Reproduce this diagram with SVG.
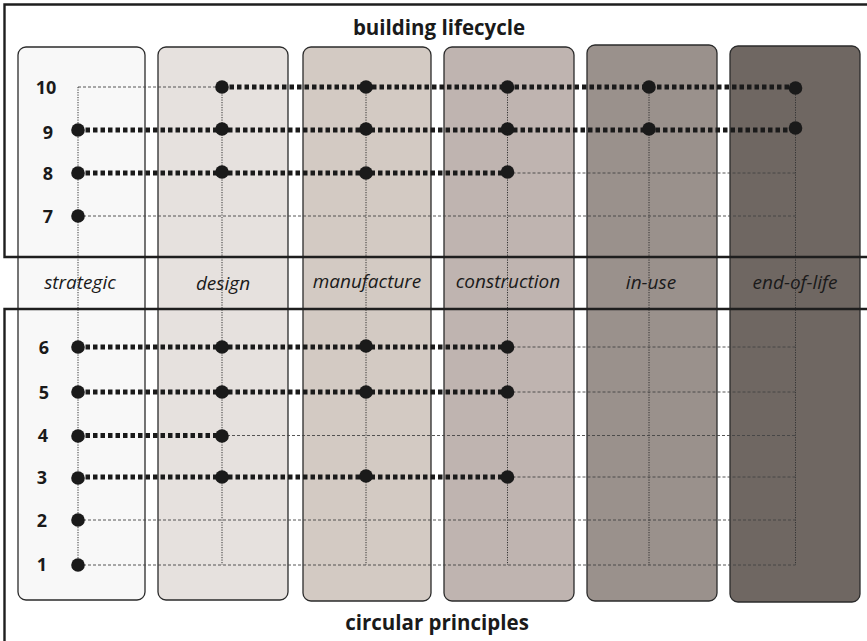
<svg xmlns="http://www.w3.org/2000/svg" width="867" height="641" viewBox="0 0 867 641">
<style>
.col{stroke:#2b2b2b;stroke-width:1.3}
.frame{fill:none;stroke:#1e1e1e;stroke-width:2.4}
.phase{font-family:"Open Sans","Liberation Sans",sans-serif;font-style:italic;font-size:19px;fill:#1a1a1a;text-anchor:middle}
.num{font-family:"Open Sans","Liberation Sans",sans-serif;font-weight:bold;font-size:18px;fill:#1a1a1a;text-anchor:middle}
.title{font-family:"Open Sans","Liberation Sans",sans-serif;font-weight:bold;font-size:20.5px;fill:#1a1a1a;text-anchor:middle}
.vt{stroke:#333;stroke-width:1;stroke-dasharray:1.2 1.3;fill:none}
.ht{stroke:#444;stroke-width:0.9;stroke-dasharray:3 2;fill:none}
.thick{stroke:#1a1a1a;stroke-width:5;stroke-dasharray:4.5 3;fill:none}
.dot{fill:#1a1a1a}
</style>
<rect width="867" height="641" fill="#ffffff"/>
<g id="col-strategic"><rect class="col" x="18" y="47" width="127" height="553" rx="8" fill="#f8f8f8"/><text class="phase" x="80" y="289">strategic</text></g>
<g id="col-design"><rect class="col" x="158" y="47" width="130" height="553" rx="8" fill="#e6e1de"/><text class="phase" x="223" y="290">design</text></g>
<g id="col-manufacture"><rect class="col" x="303" y="47" width="128" height="554" rx="8" fill="#d3cac3"/><text class="phase" x="367" y="288">manufacture</text></g>
<g id="col-construction"><rect class="col" x="444" y="47" width="130" height="554" rx="8" fill="#bfb4b0"/><text class="phase" x="508" y="288">construction</text></g>
<g id="col-in-use"><rect class="col" x="587" y="45" width="130" height="556" rx="8" fill="#9a918c"/><text class="phase" x="651" y="289">in-use</text></g>
<g id="col-end-of-life"><rect class="col" x="730" y="46" width="130" height="556" rx="8" fill="#6f6762"/><text class="phase" x="795" y="289">end-of-life</text></g>
<g id="connectors">
<path class="vt" d="M78 87V565M222 87V565M366 87V565M507.5 87V565M649 87V565M795.5 87V565"/>
<path class="ht" d="M78 87H222M78 216H795.5M507.5 173H795.5M222 435.5H795.5M507.5 347H795.5M507.5 392H795.5M507.5 477H795.5M78 520H795.5M78 565H795.5"/>
<path class="thick" d="M222 87H795.5M78 130H795.5M78 173H507.5M78 347H507.5M78 392H507.5M78 435.5H222M78 477H507.5"/>
<g class="dot">
<circle cx="222" cy="87" r="6.8"/><circle cx="366" cy="87" r="6.8"/><circle cx="507.5" cy="87" r="6.8"/><circle cx="649" cy="87" r="6.8"/><circle cx="795.5" cy="88" r="6.8"/>
<circle cx="78" cy="130" r="6.8"/><circle cx="222" cy="129" r="6.8"/><circle cx="366" cy="129" r="6.8"/><circle cx="507.5" cy="129" r="6.8"/><circle cx="649" cy="129" r="6.8"/><circle cx="795.5" cy="128" r="6.8"/>
<circle cx="78" cy="173" r="6.8"/><circle cx="222" cy="172" r="6.8"/><circle cx="366" cy="173" r="6.8"/><circle cx="507.5" cy="172" r="6.8"/>
<circle cx="78" cy="216" r="6.8"/>
<circle cx="78" cy="347" r="6.8"/><circle cx="222" cy="347" r="6.8"/><circle cx="366" cy="346" r="6.8"/><circle cx="507.5" cy="347" r="6.8"/>
<circle cx="78" cy="392" r="6.8"/><circle cx="222" cy="392" r="6.8"/><circle cx="366" cy="392" r="6.8"/><circle cx="507.5" cy="392" r="6.8"/>
<circle cx="78" cy="436" r="6.8"/><circle cx="222" cy="436" r="6.8"/>
<circle cx="78" cy="478" r="6.8"/><circle cx="222" cy="477" r="6.8"/><circle cx="366" cy="476" r="6.8"/><circle cx="507.5" cy="477" r="6.8"/>
<circle cx="78" cy="520" r="6.8"/>
<circle cx="78" cy="565" r="6.8"/>
</g>
</g>
<g id="row-labels">
<text class="num" x="46" y="94">10</text>
<text class="num" x="48" y="139">9</text>
<text class="num" x="48" y="180">8</text>
<text class="num" x="48" y="223">7</text>
<text class="num" x="44" y="354">6</text>
<text class="num" x="44" y="399">5</text>
<text class="num" x="43" y="442">4</text>
<text class="num" x="42" y="484">3</text>
<text class="num" x="42" y="527">2</text>
<text class="num" x="42" y="571">1</text>
</g>
<path class="frame" d="M870 4.5H4.5V257H870"/>
<path class="frame" d="M870 309H4.5V645"/>
<g id="title-lifecycle"><text class="title" x="439" y="35">building lifecycle</text></g>
<g id="title-principles"><text class="title" x="437" y="630">circular principles</text></g>
</svg>
